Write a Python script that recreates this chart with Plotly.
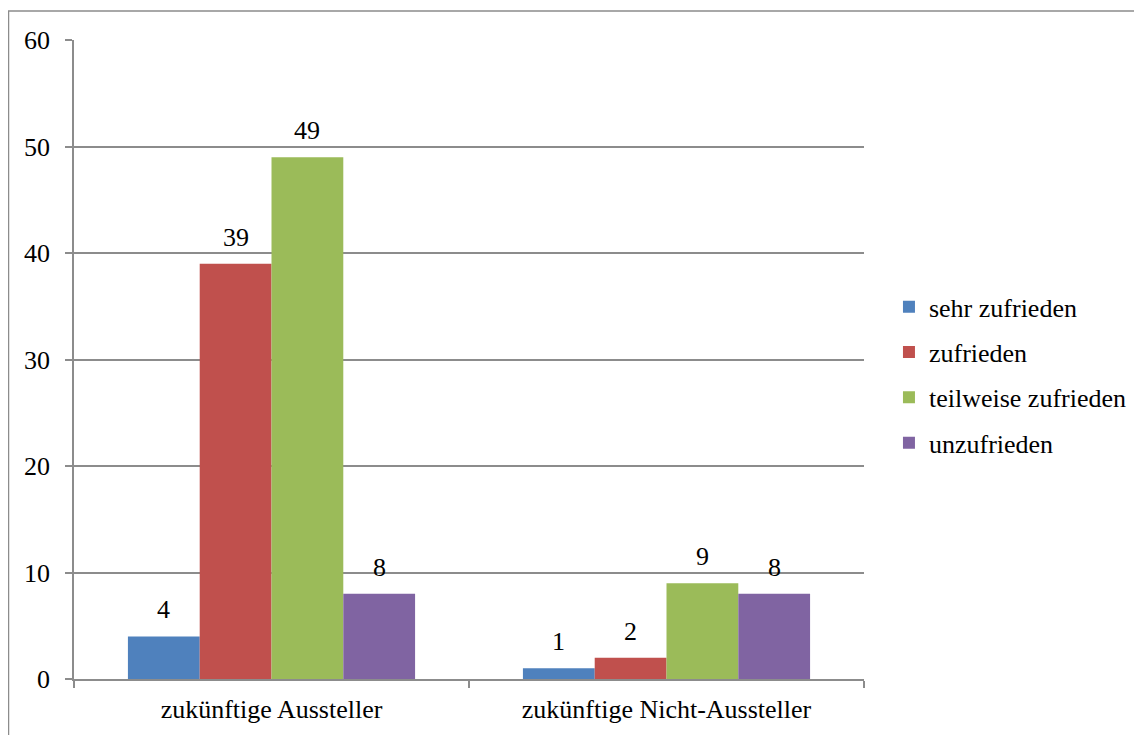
import plotly.graph_objects as go

categories = ["zukünftige Aussteller", "zukünftige Nicht-Aussteller"]
series_names = ["sehr zufrieden", "zufrieden", "teilweise zufrieden", "unzufrieden"]
series_values = [
    [4, 1],
    [39, 2],
    [49, 9],
    [8, 8],
]
series_colors = ["#4F81BD", "#C0504D", "#9BBB59", "#8064A2"]
y_ticks = [0, 10, 20, 30, 40, 50, 60]

FONT = "Liberation Serif, Times New Roman, serif"
FS = 26
GRID = "#8c8c8c"
BARGAP = 0.273

fig = go.Figure()
for i, (name, vals, col) in enumerate(zip(series_names, series_values, series_colors)):
    fig.add_trace(go.Bar(
        x=categories, y=vals, name=name, marker_color=col,
        marker_line_width=0, legendgroup=f"g{i}",
    ))

# value labels above bars, positioned via the category axis indices
n = len(series_names)
bw = (1 - BARGAP) / n
for i, vals in enumerate(series_values):
    off = -(1 - BARGAP) / 2 + bw * (i + 0.5)
    for ci, v in enumerate(vals):
        fig.add_annotation(x=ci + off, y=v, xref="x", yref="y", text=str(v),
                           showarrow=False, yanchor="bottom", yshift=10,
                           font=dict(family=FONT, size=FS, color="black"))

# page has an 8px body margin; margins compensate for it
fig.update_layout(
    width=1142, height=735,
    margin=dict(l=66, r=286, t=32, b=64),
    paper_bgcolor="white", plot_bgcolor="white",
    font=dict(family=FONT, size=FS, color="black"),
    barmode="group", bargap=BARGAP, bargroupgap=0,
    legend=dict(x=1.0316, y=0.476, xanchor="left", yanchor="middle",
                font=dict(family=FONT, size=FS, color="black"),
                tracegroupgap=8.5, traceorder="grouped"),
    showlegend=True,
)
fig.update_yaxes(range=[0, 60], tickvals=y_ticks, showgrid=True, gridcolor=GRID, gridwidth=1.5,
                 showline=True, linecolor=GRID, linewidth=1.5, ticks="outside", ticklen=7,
                 tickcolor=GRID, tickwidth=1.5, zeroline=False, tickfont=dict(size=FS),
                 automargin=False, ticklabelstandoff=10)
fig.update_xaxes(showline=True, linecolor=GRID, linewidth=1.5, ticks="outside", ticklen=7,
                 tickcolor=GRID, tickwidth=1.5, tickson="boundaries", showgrid=False,
                 tickfont=dict(size=FS), automargin=False, range=[-0.5, 1.5],
                 ticklabelstandoff=6)

# outer chart border
fig.add_shape(type="rect", xref="paper", yref="paper",
              x0=(0.5 - 66) / 790, x1=1.6, y0=-0.3, y1=(671 - 3) / 639,
              line=dict(color=GRID, width=1.5), fillcolor="rgba(0,0,0,0)", layer="below")

fig.write_html("out.html")
